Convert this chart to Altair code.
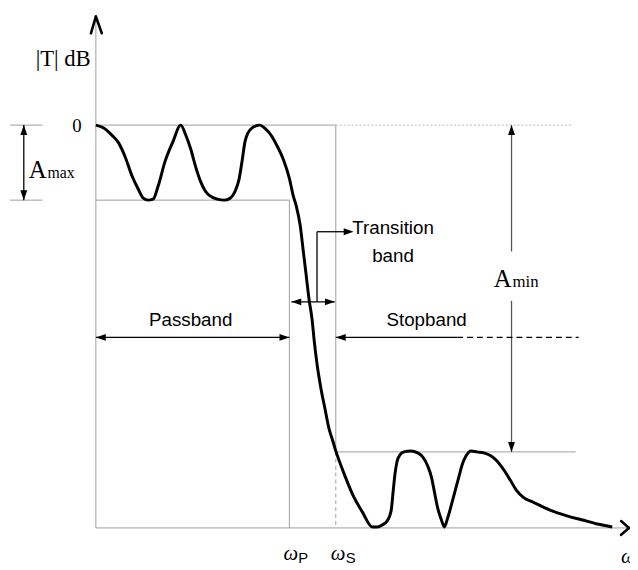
import altair as alt
import pandas as pd

# ---- response curve: frequency units from the |T| axis, attenuation units below 0 dB ----
curve_f = [0, 8, 16, 23, 30, 36, 43, 48, 53, 58, 63, 70, 78, 86, 91, 96, 101, 106, 111, 116,
           123, 130, 136, 141, 145, 148, 151, 154, 158, 166, 171, 178, 183, 190, 196, 200,
           203, 207, 210, 213, 216, 219, 221, 224, 228, 232, 236, 240, 243, 251, 260, 270, 280,
           285, 290, 295, 299, 301, 303, 305, 308, 312, 319, 326, 331, 336, 340, 343, 346, 350,
           353, 356, 360, 364, 368, 371, 375, 380, 386, 393, 400, 406, 413, 420, 426, 433, 443,
           460, 478, 493, 508, 523]
curve_a = [0, 3, 10, 18, 33, 50, 65, 74, 76, 75, 62, 37, 17, 0, 10, 24, 42, 57, 67, 72,
           75, 76, 74, 67, 55, 37, 17, 8, 3, 0, 3, 11, 20, 35, 54, 72,
           82, 102, 127, 152, 177, 197, 217, 242, 267, 287, 307, 320, 330, 352, 374, 392, 407,
           407, 405, 401, 391, 372, 353, 341, 334, 331, 330, 332, 336, 345, 357, 372, 387, 400,
           407, 399, 385, 370, 355, 344, 335, 330, 331, 332, 335, 340, 349, 360, 370, 377, 382,
           390, 396, 400, 404, 407]

# ---- guide lines (x, y, x2, y2) ----
gray_solid = [(0, 408, 0, -109), (0, 408, 539, 408), (0, 0, 243, 0), (-87, 0, -54, 0),
              (-87, 76, -54, 76), (0, 76, 196, 76), (196, 76, 196, 408), (243, 0, 243, 331),
              (243, 331, 486, 331)]
gray_dashed = [(243, 331, 243, 408)]
gray_dotted = [(243, 0, 483, 0)]
black_thin = [(-73, 0, -73, 76), (0, 215, 196, 215), (198, 179, 242, 179),
              (224, 179, 224, 108), (224, 108, 256, 108), (243, 215, 366, 215)]
dark_thin = [(421, 0, 421, 128), (421, 178, 421, 331)]
black_dashed = [(366, 215, 489, 215)]
chevrons = [(-5, -93, 0, -110), (0, -110, 6, -93), (532, 401, 540, 408), (540, 408, 532, 415)]

# ---- arrow heads (tip position, direction) ----
heads = [(-73, 0, "up"), (-73, 76, "down"), (421, 0, "up"), (421, 331, "down"),
         (0, 215, "left"), (196, 215, "right"), (198, 179, "left"), (242, 179, "right"),
         (261, 108, "right"), (243, 215, "left")]
paths = {"up": "M0,0L0.7,2L-0.7,2Z", "down": "M0,0L0.7,-2L-0.7,-2Z",
         "left": "M0,0L2,-0.7L2,0.7Z", "right": "M0,0L-2,-0.7L-2,0.7Z"}

# ---- labels ----
serif_text = ["|T| dB", "0", "A", "max", "A", "min"]
serif_x = [-61, -24, -68, -49, 403, 422]
serif_y = [-60, 7, 54, 54, 164, 164]
serif_size = [23, 19, 25, 16, 25, 17]

omega_x = [190, 238, 532]
omega_y = [440, 440, 444]

sub_text = ["P", "S"]
sub_x = [205, 253]
sub_y = [444, 444]

sans_text = ["Transition", "band", "Passband", "Stopband"]
sans_x = [301, 301, 96, 335]
sans_y = [110, 139, 203, 203]

X = alt.Scale(domain=[-89, 533])
Y = alt.Scale(domain=[-115, 439], reverse=True)


def seg_df(segs):
    return pd.DataFrame(segs, columns=["x", "y", "x2", "y2"])


def rules(segs, **kw):
    return alt.Chart(seg_df(segs)).mark_rule(**kw).encode(
        x=alt.X("x:Q", scale=X, axis=None), y=alt.Y("y:Q", scale=Y, axis=None),
        x2="x2:Q", y2="y2:Q")


layers = [
    rules(gray_solid, color="#9d9d9d", strokeWidth=1),
    rules(gray_dashed, color="#9d9d9d", strokeWidth=1, strokeDash=[4, 3]),
    rules(gray_dotted, color="#b5b5b5", strokeWidth=1, strokeDash=[2, 2]),
    rules(black_thin, color="black", strokeWidth=1.3),
    rules(dark_thin, color="#555555", strokeWidth=1.3),
    rules(black_dashed, color="black", strokeWidth=1.3, strokeDash=[6, 4]),
    rules(chevrons, color="black", strokeWidth=2.6, strokeCap="round"),
]

curve_df = pd.DataFrame({"f": curve_f, "a": curve_a})
layers.append(alt.Chart(curve_df).mark_line(color="black", strokeWidth=3, interpolate="monotone").encode(
    x=alt.X("f:Q", scale=X, axis=None), y=alt.Y("a:Q", scale=Y, axis=None), order="f:Q"))

heads_df = pd.DataFrame(heads, columns=["x", "y", "dir"])
heads_df["path"] = heads_df["dir"].map(paths)
layers.append(alt.Chart(heads_df).mark_point(filled=True, color="black", opacity=1, size=100).encode(
    x=alt.X("x:Q", scale=X, axis=None), y=alt.Y("y:Q", scale=Y, axis=None),
    shape=alt.Shape("path:N", scale=None)))

serif_df = pd.DataFrame({"t": serif_text, "x": serif_x, "y": serif_y, "s": serif_size})
layers.append(alt.Chart(serif_df).mark_text(font="Liberation Serif", align="left", baseline="alphabetic",
                                            color="black").encode(
    x=alt.X("x:Q", scale=X, axis=None), y=alt.Y("y:Q", scale=Y, axis=None), text="t:N",
    size=alt.Size("s:Q", scale=None)))

omega_df = pd.DataFrame({"x": omega_x, "y": omega_y, "t": ["ω"] * 3})
layers.append(alt.Chart(omega_df).mark_text(font="Liberation Serif", fontStyle="italic", fontSize=21,
                                            align="left", baseline="alphabetic", color="black").encode(
    x=alt.X("x:Q", scale=X, axis=None), y=alt.Y("y:Q", scale=Y, axis=None), text="t:N"))

sub_df = pd.DataFrame({"x": sub_x, "y": sub_y, "t": sub_text})
layers.append(alt.Chart(sub_df).mark_text(font="Liberation Sans", fontSize=15, align="left",
                                          baseline="alphabetic", color="black").encode(
    x=alt.X("x:Q", scale=X, axis=None), y=alt.Y("y:Q", scale=Y, axis=None), text="t:N"))

sans_df = pd.DataFrame({"x": sans_x, "y": sans_y, "t": sans_text})
layers.append(alt.Chart(sans_df).mark_text(font="Liberation Sans", fontSize=19, align="center",
                                           baseline="alphabetic", color="black").encode(
    x=alt.X("x:Q", scale=X, axis=None), y=alt.Y("y:Q", scale=Y, axis=None), text="t:N"))

chart = alt.layer(*layers).properties(
    width=622, height=554,
    padding={"left": 0, "top": 0, "right": 8, "bottom": 8},
    autosize=alt.AutoSizeParams(type="none"),
    background="white",
).configure_view(stroke=None)

chart.save("out.html", embed_options={"renderer": "svg", "actions": False})
